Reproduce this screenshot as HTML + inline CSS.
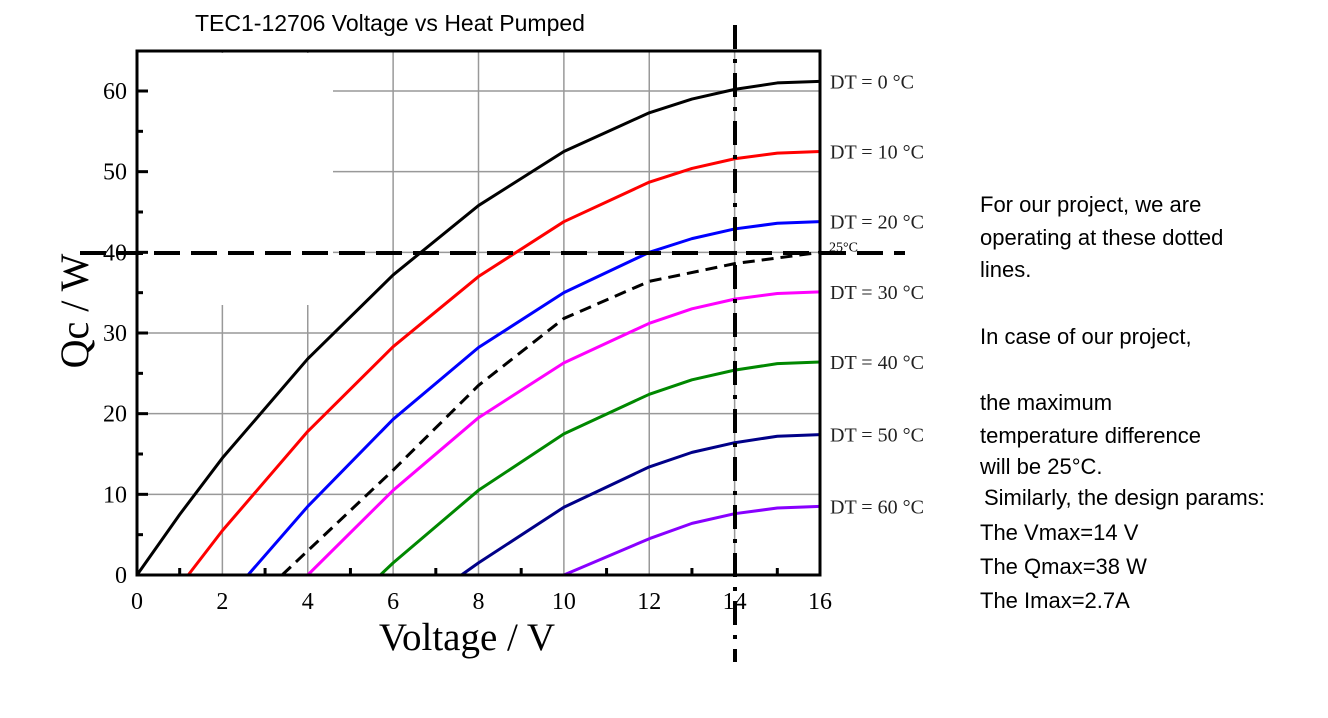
<!DOCTYPE html>
<html><head><meta charset="utf-8"><style>
body{margin:0;background:#fff;}
svg{display:block}
.serif{font-family:"Liberation Serif",serif;}
.sans{font-family:"Liberation Sans",sans-serif;}
</style></head><body>
<svg id="chart" width="1328" height="718" viewBox="0 0 1328 718">
<text class="sans" x="195" y="31" font-size="23">TEC1-12706 Voltage vs Heat Pumped</text>
<g id="grid"></g>
<rect x="139" y="53" width="194" height="252" fill="#fff"/>
<g id="ticks"></g>
<g id="series"></g>
<rect x="137" y="51" width="683" height="524" fill="none" stroke="#000" stroke-width="3"/>
<g id="labels"></g>
<line x1="80" y1="253" x2="905" y2="253" stroke="#000" stroke-width="4" stroke-dasharray="26,11"/>
<line x1="735" y1="25" x2="735" y2="662" stroke="#000" stroke-width="4" stroke-dasharray="24,10,4,10"/>
<text class="serif" font-size="40" transform="translate(88,311) rotate(-90)" text-anchor="middle">Qc / W</text>
<text class="serif" font-size="39" x="467" y="650" text-anchor="middle">Voltage / V</text>
<g class="sans" font-size="22" fill="#000">
<text x="980" y="212">For our project, we are</text>
<text x="980" y="245">operating at these dotted</text>
<text x="980" y="277">lines.</text>
<text x="980" y="344">In case of our project,</text>
<text x="980" y="410">the maximum</text>
<text x="980" y="443">temperature difference</text>
<text x="980" y="474">will be 25°C.</text>
<text x="984" y="505">Similarly, the design  params:</text>
<text x="980" y="540">The Vmax=14 V</text>
<text x="980" y="574">The Qmax=38 W</text>
<text x="980" y="608">The Imax=2.7A</text>
</g>
</svg>
<script>
const xTicks=[0,2,4,6,8,10,12,14,16];
const yTicks=[0,10,20,30,40,50,60];
const seriesNames=["DT = 0 °C","DT = 10 °C","DT = 20 °C","DT = 30 °C","DT = 40 °C","DT = 50 °C","DT = 60 °C"];
const seriesColors=["#000","#f00","#00f","#f0f","#080","#008","#80f"];
const dt0V=[0,1,2,4,6,8,10,12,13,14,15,16];
const dt0Q=[0,7.5,14.5,26.8,37.2,45.8,52.5,57.3,59,60.2,61,61.2];
const dt10V=[1.2,2,4,6,8,10,12,13,14,15,16];
const dt10Q=[0,5.5,17.8,28.3,37,43.8,48.7,50.4,51.6,52.3,52.5];
const dt20V=[2.6,4,6,8,10,12,13,14,15,16];
const dt20Q=[0,8.5,19.3,28.2,35,40,41.7,42.9,43.6,43.8];
const dt30V=[4,6,8,10,12,13,14,15,16];
const dt30Q=[0,10.5,19.5,26.3,31.2,33,34.2,34.9,35.1];
const dt40V=[5.7,6,8,10,12,13,14,15,16];
const dt40Q=[0,1.5,10.5,17.5,22.4,24.2,25.4,26.2,26.4];
const dt50V=[7.6,8,10,12,13,14,15,16];
const dt50Q=[0,1.5,8.4,13.4,15.2,16.4,17.2,17.4];
const dt60V=[10,12,13,14,15,16];
const dt60Q=[0,4.5,6.4,7.6,8.3,8.5];
const dt25V=[3.4,4,6,8,10,12,14,16];
const dt25Q=[0,3,13,23.5,31.8,36.4,38.6,40];
const X=v=>137+v*(683/16);
const Y=q=>575-q*(484/60);
const NS="http://www.w3.org/2000/svg";
function mk(t,a,p){const e=document.createElementNS(NS,t);for(const k in a)e.setAttribute(k,a[k]);p.appendChild(e);return e;}
const grid=document.getElementById('grid'),ticks=document.getElementById('ticks'),ser=document.getElementById('series'),lab=document.getElementById('labels');
xTicks.forEach(v=>{
 const l=mk('line',{x1:X(v),y1:51,x2:X(v),y2:575,stroke:'#999','stroke-width':1.5},grid);
 
 
 const t=mk('text',{x:X(v),y:609,'text-anchor':'middle','font-size':24,class:'serif'},ticks);
 t.textContent=v;
 
 
});
for(let v=1;v<16;v+=2){const m=mk('line',{x1:X(v),y1:575,x2:X(v),y2:568,stroke:'#000','stroke-width':3},ticks);
 
 }
yTicks.forEach(q=>{
 const l=mk('line',{x1:137,y1:Y(q),x2:820,y2:Y(q),stroke:'#999','stroke-width':1.5},grid);
 
 
 const m=mk('line',{x1:137,y1:Y(q),x2:148,y2:Y(q),stroke:'#000','stroke-width':3},ticks);
 
 
 const t=mk('text',{x:127,y:Y(q)+8,'text-anchor':'end','font-size':24,class:'serif'},ticks);
 t.textContent=q;
 
 
});
for(let q=5;q<65;q+=10){const m=mk('line',{x1:137,y1:Y(q),x2:143,y2:Y(q),stroke:'#000','stroke-width':3},ticks);
 
 }
const allV=[dt0V,dt10V,dt20V,dt30V,dt40V,dt50V,dt60V],allQ=[dt0Q,dt10Q,dt20Q,dt30Q,dt40Q,dt50Q,dt60Q];
allV.forEach((vs,i)=>{
 const pts=vs.map((v,j)=>X(v)+','+Y(allQ[i][j])).join(' ');
 const p=mk('polyline',{points:pts,fill:'none',stroke:seriesColors[i],'stroke-width':3,'stroke-linejoin':'round'},ser);
 
 
 const last=allQ[i][allQ[i].length-1];
 const t=mk('text',{x:830,y:Y(last)+7,'font-size':20,class:'serif',fill:'#222'},lab);
 t.textContent=seriesNames[i];
 
 
});
const p25=mk('polyline',{points:dt25V.map((v,j)=>X(v)+','+Y(dt25Q[j])).join(' '),fill:'none',stroke:'#000','stroke-width':3,'stroke-dasharray':'12,7'},ser);


const t25=mk('text',{x:829,y:Y(dt25Q[dt25Q.length-1])-1,'font-size':14,class:'serif'},lab);
t25.textContent='25°C';


</script>
</body></html>
